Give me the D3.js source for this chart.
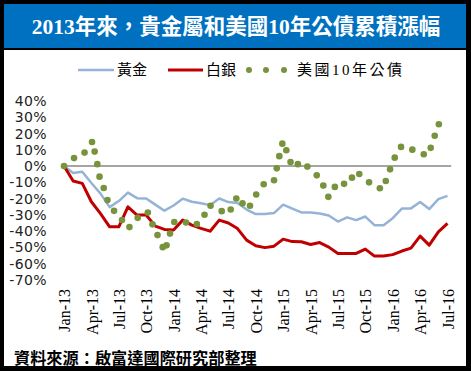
<!DOCTYPE html>
<html><head><meta charset="utf-8">
<script src="https://cdn.jsdelivr.net/npm/d3@7"></script>
<style>body{margin:0;background:#000}svg{display:block}</style>
</head><body>
<script>
const titleText = "2013年來，貴金屬和美國10年公債累積漲幅";
const sourceText = "資料來源：啟富達國際研究部整理";
const seriesNames = ["黃金", "白銀", "美國10年公債"];
const tickLabels = ["Jan-13","Apr-13","Jul-13","Oct-13","Jan-14","Apr-14","Jul-14","Oct-14","Jan-15","Apr-15","Jul-15","Oct-15","Jan-16","Apr-16","Jul-16"];
const yTicks = [40,30,20,10,0,-10,-20,-30,-40,-50,-60,-70];
// monthly cumulative change (%), Jan-13 .. Jul-16
const gold = [0,-4.3,-3.5,-10.4,-16.9,-25.2,-21.5,-16.3,-19.7,-19.9,-23.7,-27.4,-24.2,-20.0,-21.9,-22.9,-24.0,-19.9,-22.1,-22.7,-26.7,-29.5,-29.4,-28.9,-23.7,-26.1,-28.5,-28.5,-29.1,-30.4,-34.1,-31.5,-33.2,-31.0,-36.3,-36.3,-32.0,-26.1,-26.0,-22.1,-26.4,-20.3,-18.3];
const silver = [0,-9.2,-10.6,-21.9,-29.2,-37.3,-37.3,-25.0,-30.1,-30.1,-36.9,-38.9,-39.3,-33.2,-36.3,-38.3,-40.0,-33.2,-35.0,-38.4,-45.5,-48.9,-50.1,-49.2,-44.9,-46.4,-46.5,-48.2,-47.0,-49.8,-53.7,-53.7,-53.7,-51.0,-55.3,-55.3,-54.4,-52.2,-50.4,-43.0,-48.6,-40.4,-35.2];
// US 10Y bond: months since Jan-13 and cumulative change (%)
const bondMonth = [0,1.10,2.25,3.07,3.36,3.65,3.89,4.35,4.76,5.48,6.35,7.17,8.07,9.18,9.69,10.24,10.81,11.23,11.61,12.08,13.36,14.55,15.39,16.05,17.27,18.26,18.87,19.55,20.37,21.05,21.87,23.00,23.30,23.58,23.91,24.35,24.81,25.61,26.65,27.68,28.40,28.95,29.66,30.67,31.54,32.34,33.41,34.59,35.24,35.71,36.22,36.91,38.15,39.40,40.16,40.60,41.05];
const bondValue = [0,4.9,8.3,14.8,8.9,1.2,-6.5,-13.5,-20.9,-27.5,-33.2,-37.5,-31.8,-28.5,-35.8,-42.4,-49.8,-48.7,-41.5,-34.4,-34.7,-35.6,-29.9,-24.4,-27.7,-26.7,-19.9,-22.9,-24.4,-17.5,-11.2,-8.7,-1.4,6.1,13.8,9.7,2.5,1.2,-0.3,-5.7,-12.0,-18.9,-12.8,-10.9,-7.1,-4.9,-10.0,-13.6,-9.2,-2.0,5.2,11.8,10.1,7.3,11.2,18.6,25.7];

const W = 471, H = 371;
const svg = d3.select("body").append("svg").attr("width", W).attr("height", H);
svg.append("rect").attr("width", W).attr("height", H).attr("fill", "#000");
svg.append("rect").attr("x", 4).attr("y", 4).attr("width", 462).attr("height", 44).attr("fill", "#0070C0");
svg.append("rect").attr("x", 4).attr("y", 50).attr("width", 462).attr("height", 316).attr("fill", "#fff");

svg.append("text").attr("x", 236).attr("y", 34).attr("text-anchor", "middle")
  .attr("fill", "#fff").attr("font-size", 21.5).attr("font-weight", "bold")
  .attr("font-family", "'Liberation Serif','Noto Sans CJK TC',serif").text(titleText);

const x = d3.scaleLinear().domain([0, 42]).range([64, 447.5]);
const y = d3.scaleLinear().domain([-70, 40]).range([280, 101]);

// legend
const lg = svg.append("g").attr("font-family", "'Liberation Serif','Noto Sans CJK TC',serif").attr("font-size", 15).attr("fill", "#000");
lg.append("line").attr("x1", 78).attr("x2", 114).attr("y1", 70).attr("y2", 70).attr("stroke", "#95B3D7").attr("stroke-width", 2.5);
lg.append("text").attr("x", 117).attr("y", 75).text(seriesNames[0]);
lg.append("line").attr("x1", 168).attr("x2", 203).attr("y1", 70).attr("y2", 70).attr("stroke", "#C00000").attr("stroke-width", 3);
lg.append("text").attr("x", 206).attr("y", 75).text(seriesNames[1]);
[249, 266, 284].forEach(cx => lg.append("circle").attr("cx", cx).attr("cy", 70).attr("r", 3).attr("fill", "#77933C"));
lg.append("text").attr("x", 297).attr("y", 75).attr("letter-spacing", 2.5).text(seriesNames[2]);

// y axis
const ya = svg.append("g").attr("transform", "translate(50,0)")
  .call(d3.axisLeft(y).tickValues(yTicks).tickSize(0).tickPadding(3).tickFormat(d => d + "%"));
ya.select(".domain").remove();
ya.selectAll("text").attr("font-family", "'DejaVu Sans',sans-serif").attr("font-size", 14).attr("letter-spacing", 0.4).attr("fill", "#222");

// x axis
const xa = svg.append("g").attr("transform", "translate(0,284)")
  .call(d3.axisBottom(x).tickValues(d3.range(0, 43, 3)).tickSize(0).tickFormat((d, i) => tickLabels[i]));
xa.select(".domain").remove();
xa.selectAll("text").attr("font-family", "'Liberation Serif',serif").attr("font-size", 16).attr("fill", "#000")
  .attr("transform", "rotate(-90)").attr("text-anchor", "end").attr("x", -5).attr("y", 0).attr("dy", "0.35em");

// zero line
svg.append("line").attr("x1", x(-0.1)).attr("x2", x(42.4)).attr("y1", y(0)).attr("y2", y(0))
  .attr("stroke", "#878787").attr("stroke-width", 1.5);

const line = d3.line().x((d, i) => x(i)).y(d => y(d));
svg.append("path").datum(gold).attr("d", line).attr("fill", "none").attr("stroke", "#95B3D7").attr("stroke-width", 2.5).attr("stroke-linejoin", "round");
svg.append("path").datum(silver).attr("d", line).attr("fill", "none").attr("stroke", "#C00000").attr("stroke-width", 3).attr("stroke-linejoin", "round");

svg.append("g").selectAll("circle").data(bondValue).join("circle")
  .attr("cx", (d, i) => x(bondMonth[i])).attr("cy", d => y(d)).attr("r", 3.3).attr("fill", "#77933C");

svg.append("text").attr("x", 14).attr("y", 364).attr("font-size", 16.2).attr("font-weight", "bold")
  .attr("font-family", "'Noto Sans CJK TC',sans-serif").attr("fill", "#000").text(sourceText);
</script>
</body></html>
